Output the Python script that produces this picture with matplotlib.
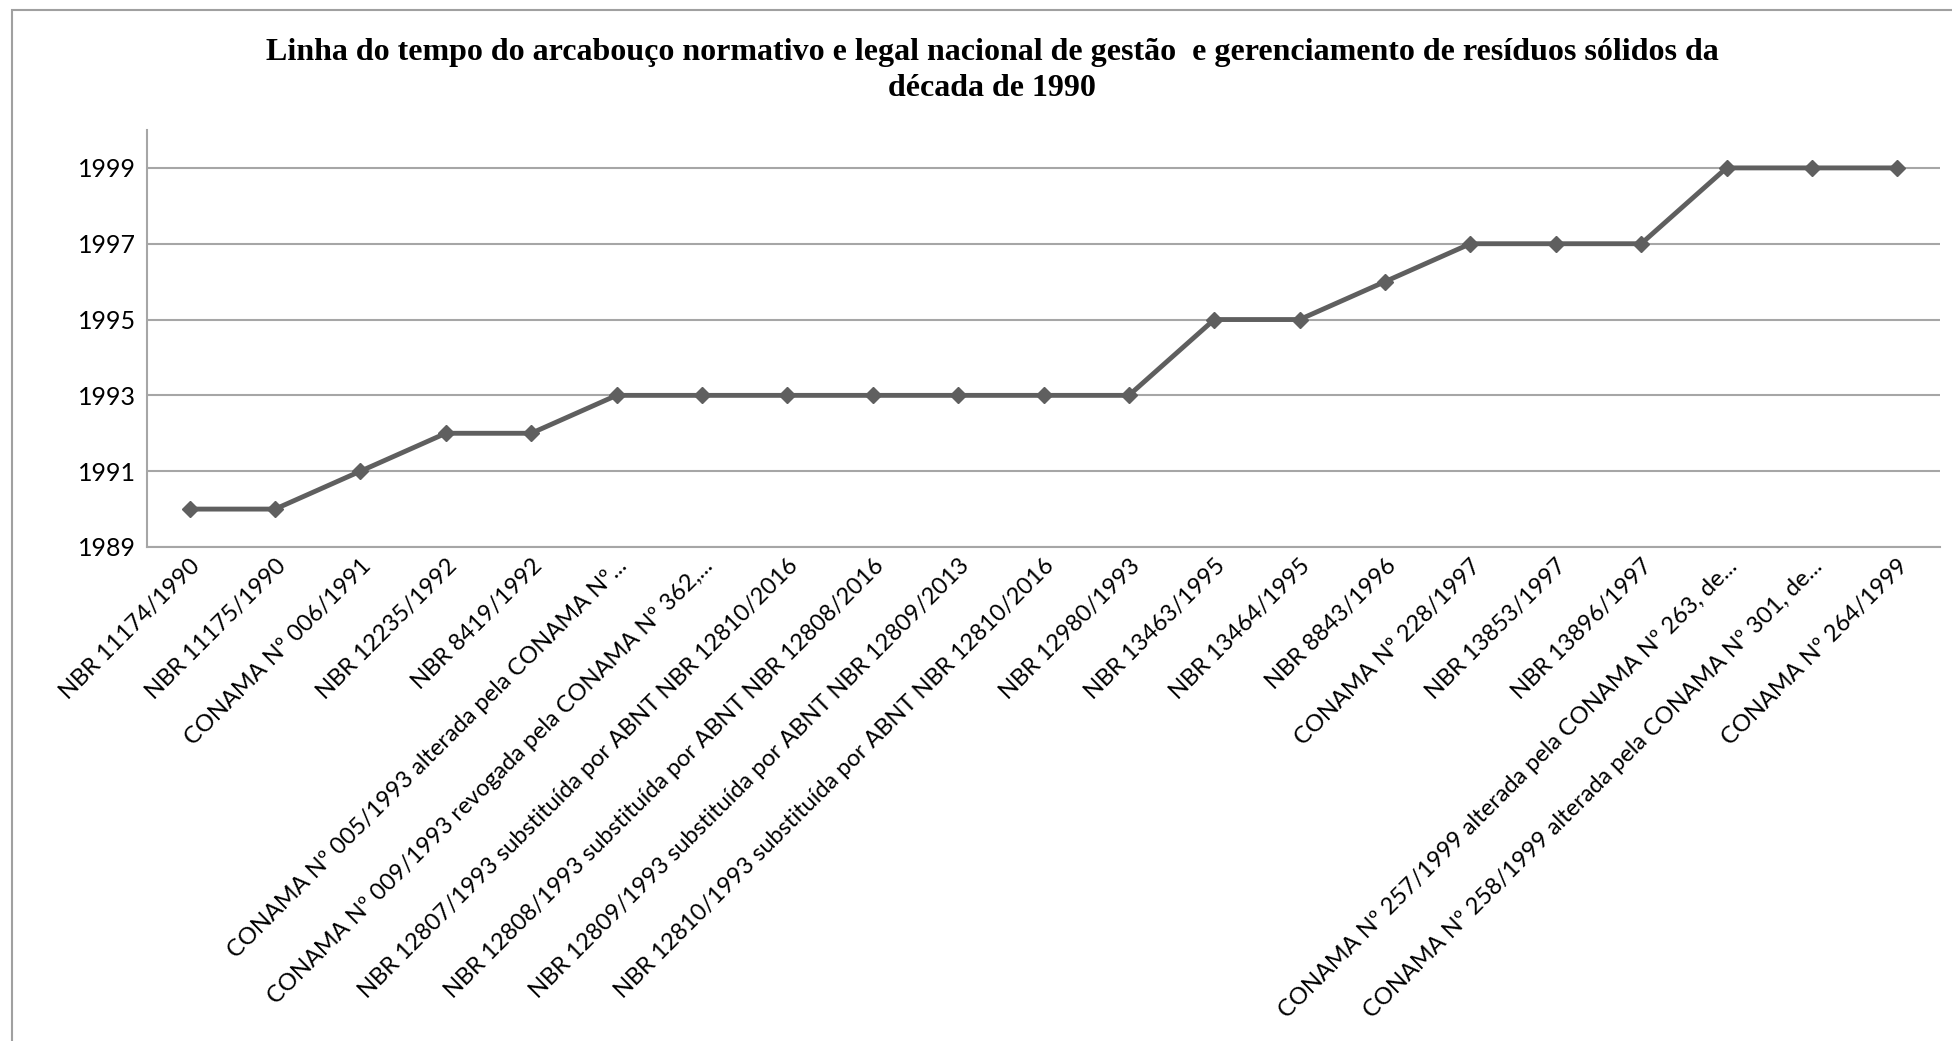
import matplotlib
matplotlib.use("Agg")
import matplotlib.pyplot as plt
from matplotlib.patches import Rectangle

labels = [
    "NBR 11174/1990",
    "NBR 11175/1990",
    "CONAMA Nº 006/1991",
    "NBR 12235/1992",
    "NBR 8419/1992",
    "CONAMA Nº 005/1993 alterada pela CONAMA Nº...",
    "CONAMA Nº 009/1993 revogada pela CONAMA Nº 362,...",
    "NBR 12807/1993 substituída por ABNT NBR 12810/2016",
    "NBR 12808/1993 substituída por ABNT NBR 12808/2016",
    "NBR 12809/1993 substituída por ABNT NBR 12809/2013",
    "NBR 12810/1993 substituída por ABNT NBR 12810/2016",
    "NBR 12980/1993",
    "NBR 13463/1995",
    "NBR 13464/1995",
    "NBR 8843/1996",
    "CONAMA Nº 228/1997",
    "NBR 13853/1997",
    "NBR 13896/1997",
    "CONAMA Nº 257/1999 alterada pela CONAMA Nº 263, de...",
    "CONAMA Nº 258/1999 alterada pela CONAMA Nº 301, de...",
    "CONAMA Nº 264/1999",
]
years = [1990, 1990, 1991, 1992, 1992, 1993, 1993, 1993, 1993, 1993, 1993,
         1993, 1995, 1995, 1996, 1997, 1997, 1997, 1999, 1999, 1999]
yticks = [1989, 1991, 1993, 1995, 1997, 1999]

title = ("Linha do tempo do arcabouço normativo e legal nacional de gestão  e "
         "gerenciamento de resíduos sólidos da\ndécada de 1990")

W, H = 1952, 1041
fig = plt.figure(figsize=(W / 100, H / 100), dpi=100)
fig.patch.set_facecolor("white")

# outer chart border (only left/top visible)
fig.patches.append(Rectangle((12 / W, -0.05), 1.2, (H - 10) / H + 0.05,
                             transform=fig.transFigure, fill=False,
                             edgecolor="#a0a0a0", linewidth=1.5))

ax = fig.add_axes([147 / W, (H - 547) / H, (1940 - 147) / W, (547 - 130) / H])
x = list(range(len(labels)))
ax.plot(x, years, color="#5f5f5f", linewidth=3.5, marker="D", markersize=8.5,
        markerfacecolor="#5f5f5f", markeredgecolor="#5f5f5f", zorder=3)

ax.set_xlim(-0.5, len(labels) - 0.5)
ax.set_ylim(1989, 2000)
ax.set_yticks(yticks)
ax.set_yticklabels([str(v) for v in yticks], fontsize=18, family="Lato")
ax.set_xticks(x)
ax.set_xticklabels(labels, rotation=45, ha="right", va="top",
                   rotation_mode="anchor", fontsize=17, family="Lato")
ax.tick_params(axis="both", length=0, pad=8)
ax.tick_params(axis="x", pad=6)

ax.yaxis.grid(True, color="#a6a6a6", linewidth=1.5)
ax.set_axisbelow(True)
for s in ["top", "right"]:
    ax.spines[s].set_visible(False)
ax.spines["left"].set_color("#a6a6a6")
ax.spines["bottom"].set_color("#a6a6a6")
ax.spines["left"].set_linewidth(1.5)
ax.spines["bottom"].set_linewidth(1.5)

fig.text(992 / W, 1 - 38 / H, title, ha="center", va="top",
         family="Liberation Serif", fontweight="bold", fontsize=23,
         linespacing=1.3)

fig.savefig("out.png", dpi=100, facecolor="white")
